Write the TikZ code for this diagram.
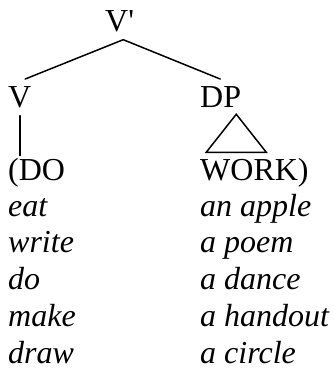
\documentclass[tikz,border=0pt]{standalone}
\usepackage{fontspec}
\setmainfont{Liberation Serif}
\usetikzlibrary{calc}
\begin{document}
\begin{tikzpicture}[x=1pt,y=-1pt,
  lbl/.style={anchor=base west,inner sep=0pt,font=\fontsize{32}{38}\selectfont},
  ex/.style={lbl,font=\fontsize{32}{38}\selectfont\itshape},
  edge/.style={line width=1.5pt,line cap=round,line join=miter}]
\useasboundingbox (0,0) rectangle (333,369);
\node[lbl] (Vp) at (105,32) {V\textquotesingle};
\node[lbl] (V) at (8,107) {V};
\node[lbl] (DP) at (200,107) {DP};
\node[lbl] (DO) at (8,180) {(DO};
\node[lbl] (WORK) at (200,180) {WORK)};
\node[ex] (l1) at (8,216) {eat};
\node[ex] (l2) at (8,252.75) {write};
\node[ex] (l3) at (8,289.5) {do};
\node[ex] (l4) at (8,326.25) {make};
\node[ex] (l5) at (8,363) {draw};
\node[ex] (r1) at (200,216) {an apple};
\node[ex] (r2) at (200,252.75) {a poem};
\node[ex] (r3) at (200,289.5) {a dance};
\node[ex] (r4) at (200,326.25) {a handout};
\node[ex] (r5) at (200,363) {a circle};
\draw[edge] ($(Vp.south)+(3.6pt,-7pt)$) -- ($(V.north)+(5.4pt,6.8pt)$);
\draw[edge] ($(Vp.south)+(3.6pt,-7pt)$) -- ($(DP.north)+(-0.4pt,6.8pt)$);
\draw[edge] ($(V.south)+(0,-8pt)$) -- ($(V.south |- DO.north)+(0,2pt)$);
\draw[edge] ($(DP.south)+(15.6pt,-7pt)$) -- ++(-30pt,-38pt) -- ++(60pt,0pt) -- cycle;
\end{tikzpicture}
\end{document}
